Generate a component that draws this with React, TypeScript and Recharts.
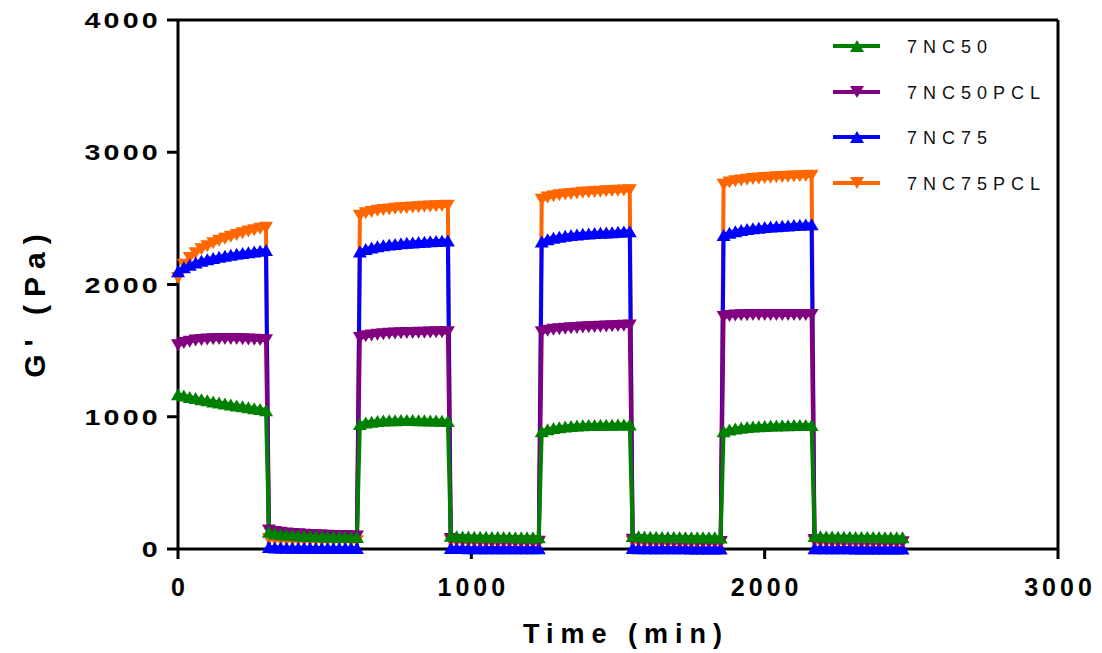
import React from 'react';
import { LineChart, Line, XAxis, YAxis, ReferenceLine, Label } from 'recharts';

const seriesNames = ['7NC50', '7NC50PCL', '7NC75', '7NC75PCL'];
const seriesColors = ['#008000', '#800080', '#0000ff', '#ff6600'];
const xTicks = [0, 1000, 2000, 3000];
const yTicks = [0, 1000, 2000, 3000, 4000];

// each step of the test lasts ~310 s, sampled every 20 s
const segmentStarts = [0, 310, 620, 930, 1240, 1550, 1860, 2170];
const sampleOffsets = [0, 20, 40, 60, 80, 100, 120, 140, 160, 180, 200, 220, 240, 260, 280, 300];

const nc50 = [
  [1170, 1160, 1150, 1141, 1132, 1124, 1116, 1108, 1100, 1093, 1086, 1079, 1072, 1065, 1058, 1050],
  [130, 118, 112, 108, 105, 103, 101, 99, 97, 96, 95, 94, 93, 92, 91, 90],
  [945, 956, 963, 968, 971, 973, 974, 975, 975, 975, 974, 973, 972, 971, 970, 968],
  [100, 97, 95, 94, 93, 92, 92, 91, 91, 90, 90, 89, 89, 88, 88, 88],
  [890, 905, 914, 921, 926, 930, 933, 935, 937, 938, 939, 940, 940, 941, 941, 941],
  [98, 96, 94, 93, 92, 91, 91, 90, 90, 89, 89, 89, 88, 88, 88, 87],
  [890, 903, 911, 917, 922, 926, 929, 931, 933, 934, 935, 936, 937, 937, 938, 938],
  [98, 96, 95, 94, 93, 92, 92, 91, 91, 90, 90, 90, 89, 89, 89, 88],
];

const nc50pcl = [
  [1540, 1558, 1568, 1576, 1581, 1584, 1586, 1587, 1588, 1588, 1587, 1586, 1585, 1583, 1581, 1578],
  [140, 128, 122, 117, 114, 111, 108, 106, 104, 102, 100, 99, 98, 97, 96, 95],
  [1595, 1608, 1615, 1620, 1624, 1627, 1629, 1631, 1633, 1634, 1635, 1636, 1637, 1638, 1638, 1639],
  [75, 68, 64, 62, 60, 59, 58, 57, 57, 56, 56, 55, 55, 55, 54, 54],
  [1638, 1650, 1657, 1662, 1666, 1669, 1672, 1675, 1677, 1679, 1681, 1683, 1685, 1687, 1688, 1690],
  [70, 64, 61, 59, 58, 57, 56, 55, 55, 54, 54, 53, 53, 53, 52, 52],
  [1755, 1762, 1765, 1767, 1768, 1769, 1769, 1770, 1770, 1770, 1770, 1770, 1770, 1769, 1769, 1769],
  [68, 62, 59, 57, 56, 55, 54, 54, 53, 53, 52, 52, 52, 51, 51, 51],
];

const nc75 = [
  [2100, 2130, 2150, 2166, 2180, 2191, 2201, 2210, 2218, 2225, 2232, 2238, 2244, 2250, 2255, 2260],
  [15, 12, 11, 10, 10, 9, 9, 9, 8, 8, 8, 8, 7, 7, 7, 7],
  [2250, 2268, 2280, 2289, 2296, 2302, 2307, 2311, 2315, 2318, 2321, 2324, 2327, 2329, 2331, 2333],
  [8, 7, 7, 6, 6, 6, 6, 5, 5, 5, 5, 5, 5, 5, 5, 5],
  [2325, 2343, 2354, 2362, 2369, 2374, 2379, 2383, 2386, 2389, 2392, 2394, 2396, 2398, 2400, 2402],
  [7, 6, 6, 6, 5, 5, 5, 5, 5, 5, 4, 4, 4, 4, 4, 4],
  [2375, 2392, 2403, 2412, 2419, 2425, 2430, 2434, 2438, 2441, 2444, 2447, 2450, 2452, 2454, 2456],
  [6, 6, 5, 5, 5, 5, 5, 4, 4, 4, 4, 4, 4, 4, 4, 4],
];

const nc75pcl = [
  [2050, 2150, 2200, 2237, 2266, 2290, 2311, 2330, 2346, 2361, 2375, 2388, 2400, 2411, 2421, 2430],
  [75, 70, 68, 66, 65, 64, 63, 62, 62, 61, 61, 60, 60, 60, 59, 59],
  [2520, 2538, 2549, 2557, 2563, 2568, 2572, 2576, 2579, 2582, 2585, 2588, 2590, 2592, 2594, 2596],
  [60, 56, 54, 53, 52, 51, 51, 50, 50, 50, 49, 49, 49, 49, 48, 48],
  [2640, 2657, 2667, 2674, 2680, 2685, 2689, 2693, 2696, 2699, 2702, 2705, 2707, 2709, 2711, 2713],
  [55, 52, 50, 49, 48, 48, 47, 47, 46, 46, 46, 45, 45, 45, 45, 45],
  [2755, 2771, 2780, 2787, 2793, 2797, 2801, 2805, 2808, 2811, 2813, 2815, 2817, 2819, 2821, 2823],
  [55, 52, 50, 49, 48, 48, 47, 47, 46, 46, 46, 45, 45, 45, 45, 45],
];

const rows = segmentStarts.flatMap((start, si) =>
  sampleOffsets.map((off, oi) => ({
    t: start + off,
    g50: nc50[si][oi],
    p50: nc50pcl[si][oi],
    b75: nc75[si][oi],
    o75: nc75pcl[si][oi],
  }))
);

const FONT = '"Liberation Sans", Arial, sans-serif';

const triangle = (cx: number, cy: number, w: number, h: number, up: boolean) =>
  up
    ? `${cx - w},${cy + h / 2} ${cx + w},${cy + h / 2} ${cx},${cy - h / 2}`
    : `${cx - w},${cy - h / 2} ${cx + w},${cy - h / 2} ${cx},${cy + h / 2}`;

const makeDot = (color: string, up: boolean) => (props: any) => {
  const { cx, cy, index } = props;
  if (cx == null || cy == null) return <g key={index} />;
  return <polygon key={index} points={triangle(cx, cy, 7, 12, up)} fill={color} />;
};

const YTick = (props: any) => {
  const { x, y, payload } = props;
  return (
    <text
      transform={`translate(${x - 4},${y + 8}) scale(1.3,1)`}
      textAnchor="end"
      fontFamily={FONT}
      fontWeight="bold"
      fontSize={22}
      letterSpacing={2.5}
      fill="#000"
    >
      {payload.value}
    </text>
  );
};

const XTick = (props: any) => {
  const { x, y, payload } = props;
  return (
    <text
      x={x + 2}
      y={y + 35}
      textAnchor="middle"
      fontFamily={FONT}
      fontWeight="bold"
      fontSize={25}
      letterSpacing={4}
      fill="#000"
    >
      {payload.value}
    </text>
  );
};

const legendRows = [46, 92, 137, 183];
const legendUp = [true, false, true, false];

export default function App() {
  return (
    <div style={{ position: 'absolute', left: 0, top: 0, width: 1102, height: 653, background: '#fff' }}>
      <LineChart width={1102} height={653} data={rows} margin={{ top: 20, right: 44, bottom: 0, left: 0 }}>
        <XAxis
          dataKey="t"
          type="number"
          domain={[0, 3000]}
          ticks={xTicks}
          height={104}
          axisLine={{ stroke: '#000', strokeWidth: 3 }}
          tickLine={{ stroke: '#000', strokeWidth: 3 }}
          tickSize={10}
          tick={<XTick />}
          interval={0}
        >
          <Label
            content={() => (
              <text
                x={626}
                y={643}
                textAnchor="middle"
                fontFamily={FONT}
                fontWeight="bold"
                fontSize={27}
                letterSpacing={7}
                fill="#000"
              >
                Time (min)
              </text>
            )}
          />
        </XAxis>
        <YAxis
          type="number"
          domain={[0, 4000]}
          ticks={yTicks}
          width={178}
          axisLine={{ stroke: '#000', strokeWidth: 3 }}
          tickLine={{ stroke: '#000', strokeWidth: 3 }}
          tickSize={11}
          tick={<YTick />}
          interval={0}
        >
          <Label
            content={() => (
              <text
                transform="translate(45,302) rotate(-90)"
                textAnchor="middle"
                fontFamily={FONT}
                fontWeight="bold"
                fontSize={30}
                letterSpacing={8}
                fill="#000"
              >
                G' (Pa)
              </text>
            )}
          />
        </YAxis>
        <ReferenceLine y={4000} stroke="#000" strokeWidth={3} />
        <ReferenceLine x={3000} stroke="#000" strokeWidth={3} />
        <Line
          dataKey="o75"
          name={seriesNames[3]}
          stroke={seriesColors[3]}
          strokeWidth={4}
          dot={makeDot(seriesColors[3], false)}
          activeDot={false}
          isAnimationActive={false}
        />
        <Line
          dataKey="b75"
          name={seriesNames[2]}
          stroke={seriesColors[2]}
          strokeWidth={4}
          dot={makeDot(seriesColors[2], true)}
          activeDot={false}
          isAnimationActive={false}
        />
        <Line
          dataKey="p50"
          name={seriesNames[1]}
          stroke={seriesColors[1]}
          strokeWidth={4}
          dot={makeDot(seriesColors[1], false)}
          activeDot={false}
          isAnimationActive={false}
        />
        <Line
          dataKey="g50"
          name={seriesNames[0]}
          stroke={seriesColors[0]}
          strokeWidth={4}
          dot={makeDot(seriesColors[0], true)}
          activeDot={false}
          isAnimationActive={false}
        />
      </LineChart>
      <svg
        width={1102}
        height={653}
        style={{ position: 'absolute', left: 0, top: 0, pointerEvents: 'none' }}
      >
        {seriesNames.map((name, i) => (
          <g key={name}>
            <line x1={833} x2={880} y1={legendRows[i]} y2={legendRows[i]} stroke={seriesColors[i]} strokeWidth={4} />
            <polygon points={triangle(857, legendRows[i], 7, 12, legendUp[i])} fill={seriesColors[i]} />
            <text
              x={907}
              y={legendRows[i] + 6.5}
              fontFamily={FONT}
              fontSize={18}
              letterSpacing={6}
              fill="#111"
            >
              {name}
            </text>
          </g>
        ))}
      </svg>
    </div>
  );
}
